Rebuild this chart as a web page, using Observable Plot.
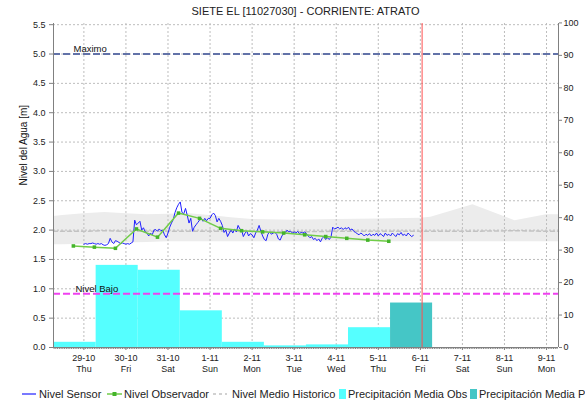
<!DOCTYPE html>
<html><head><meta charset="utf-8">
<script src="https://cdn.jsdelivr.net/npm/d3@7"></script>
<script src="https://cdn.jsdelivr.net/npm/@observablehq/plot@0.6"></script>
<style>
html,body{margin:0;padding:0;background:#fff;overflow:hidden;width:585px;height:403px;}
body{font-family:"Liberation Sans",Arial,sans-serif;}
#title{height:18px;line-height:22px;font-size:11px;text-align:center;padding-left:53px;padding-right:27px;color:#222;white-space:nowrap;}
#chart{height:360px;}
#legend{position:relative;height:25px;font-size:11px;color:#222;white-space:nowrap;}
.item{position:absolute;top:3px;height:25px;display:flex;align-items:center;}
.item svg{display:block;}
</style></head><body>
<div id="title"></div>
<div id="chart"></div>
<div id="legend"></div>
<script>
// ---------- data ----------
const titleText = "SIETE EL [11027030] - CORRIENTE: ATRATO";
const yLabel = "Nivel del Agua [m]";
const weekdays = ["Sun","Mon","Tue","Wed","Thu","Fri","Sat"];

// hourly sensor level (m), starting 29-10-2015 00:00
const sensorStart = "2015-10-29T00:00";
const sensorValues = [
  // 29-10
  1.76,1.77,1.76,1.77,1.77,1.78,1.77,1.76,1.77,1.76,1.77,1.75,1.74,1.75,1.77,1.86,1.80,1.77,1.82,1.81,1.79,1.77,1.78,1.77,
  // 30-10
  1.76,1.77,1.76,1.78,1.80,2.17,2.09,2.12,2.15,2.00,2.04,1.97,1.95,1.90,1.95,1.92,2.00,2.01,1.98,2.02,1.99,2.00,1.92,1.87,
  // 31-10
  1.95,2.05,2.12,2.18,2.30,2.38,2.44,2.48,2.30,2.28,2.37,2.25,2.12,2.20,1.98,2.05,2.09,2.13,2.17,2.20,2.15,2.20,2.16,2.20,
  // 1-11
  2.20,2.26,2.29,2.25,2.14,2.20,2.15,2.08,1.96,2.00,1.89,1.95,2.00,1.95,2.02,1.97,2.08,2.02,2.00,1.89,1.95,1.98,1.90,1.94,
  // 2-11
  1.92,1.87,1.95,2.00,2.08,1.98,1.90,1.84,1.82,1.93,1.97,1.93,1.95,1.96,1.93,1.85,1.83,1.90,1.94,1.96,2.00,1.97,1.98,1.95,
  // 3-11
  1.97,1.95,1.98,1.94,1.96,1.95,1.97,1.94,1.90,1.87,1.89,1.84,1.86,1.82,1.85,1.80,1.86,1.89,1.84,1.87,1.84,1.88,2.05,2.02,
  // 4-11
  2.03,2.05,2.02,2.04,2.01,2.04,2.02,2.05,2.00,2.02,1.98,1.96,1.94,1.92,1.95,1.93,1.90,1.93,1.91,1.94,1.90,1.93,1.91,1.95,
  // 5-11
  1.90,1.94,1.92,1.89,1.95,1.91,1.93,1.90,1.95,1.92,1.89,1.94,1.92,1.96,1.91,1.93,1.90,1.95,1.92,1.89,1.91
];

// observer readings (m)
const obsTimes = ["2015-10-28T18:00","2015-10-29T06:00","2015-10-29T18:00","2015-10-30T06:00","2015-10-30T18:00",
  "2015-10-31T06:00","2015-10-31T18:00","2015-11-01T06:00","2015-11-01T18:00","2015-11-02T06:00","2015-11-02T18:00",
  "2015-11-03T06:00","2015-11-03T18:00","2015-11-04T06:00","2015-11-04T18:00","2015-11-05T06:00"];
const obsValues = [1.73,1.71,1.69,2.02,1.88,2.29,2.20,2.03,1.99,1.97,1.95,1.92,1.89,1.86,1.83,1.81];

// historical level: band (min/max) and median (m)
const histTimes = ["2015-10-28T06:40","2015-10-28T12:00","2015-10-29T00:00","2015-10-29T12:00","2015-10-30T00:00",
  "2015-10-30T12:00","2015-10-31T00:00","2015-10-31T12:00","2015-11-01T00:00","2015-11-01T12:00","2015-11-02T00:00",
  "2015-11-03T00:00","2015-11-04T00:00","2015-11-05T00:00","2015-11-06T00:00","2015-11-06T06:00","2015-11-07T06:00",
  "2015-11-08T06:00","2015-11-09T00:00","2015-11-09T06:50"];
const histHigh = [2.23,2.25,2.28,2.30,2.28,2.26,2.27,2.28,2.25,2.21,2.18,2.17,2.18,2.19,2.20,2.22,2.43,2.16,2.26,2.26];
const histLow  = [1.75,1.75,1.76,1.77,1.78,1.79,1.80,1.80,1.80,1.80,1.80,1.80,1.80,1.80,1.80,1.80,1.80,1.80,1.80,1.80];
const histMed  = [1.98,1.98,1.98,1.99,1.98,1.98,1.98,1.98,1.98,1.98,1.98,1.97,1.98,1.98,1.98,1.98,1.98,1.99,1.98,1.98];

// daily precipitation (mm), 07:00 to 07:00
const precipObsStart = ["2015-10-27T07:00","2015-10-28T07:00","2015-10-29T07:00","2015-10-30T07:00","2015-10-31T07:00",
  "2015-11-01T07:00","2015-11-02T07:00","2015-11-03T07:00","2015-11-04T07:00"];
const precipObsValues = [6.5,1.6,25.3,23.8,11.3,1.6,0.5,0.8,6.1];
const precipPredStart = ["2015-11-05T07:00"];
const precipPredValues = [13.7];

// thresholds (m)
const maximoLevel = 5.0, maximoLabel = "Maximo";
const bajoLevel = 0.915, bajoLabel = "Nivel Bajo";
const nowTime = "2015-11-06T01:00";

const leftTicks = [0,0.5,1,1.5,2,2.5,3,3.5,4,4.5,5,5.5];
const rightTicks = [0,10,20,30,40,50,60,70,80,90,100];
const dayTickDates = ["2015-10-29","2015-10-30","2015-10-31","2015-11-01","2015-11-02","2015-11-03",
  "2015-11-04","2015-11-05","2015-11-06","2015-11-07","2015-11-08","2015-11-09"];
const xStart = "2015-10-28T06:40", xEnd = "2015-11-09T06:50";

const legendItems = ["Nivel Sensor","Nivel Observador","Nivel Medio Historico","Precipitación Media Obs","Precipitación Media Pronosticada"];

// ---------- build ----------
const T = s => new Date(s + (s.length === 10 ? "T00:00Z" : "Z"));
const k = 0.0553; // right axis (mm) -> left axis (m)

const sensor = sensorValues.map((v, i) => ({date: d3.utcHour.offset(T(sensorStart), i), v}));
const observer = obsTimes.map((s, i) => ({date: T(s), v: obsValues[i]}));
const hist = histTimes.map((s, i) => ({date: T(s), hi: histHigh[i], lo: histLow[i], med: histMed[i]}));
const pObs = precipObsStart.map((s, i) => ({x1: T(s), x2: d3.utcDay.offset(T(s), 1), v: precipObsValues[i]}));
const pPred = precipPredStart.map((s, i) => ({x1: T(s), x2: d3.utcDay.offset(T(s), 1), v: precipPredValues[i]}));
const dayTicks = dayTickDates.map(T);
const xDomain = [T(xStart), T(xEnd)];
const hourTicks = d3.utcHour.range(xDomain[0], xDomain[1]);

document.getElementById("title").textContent = titleText;

const grid = {stroke: "#bdbdbd", strokeOpacity: 1, strokeDasharray: "2,2"};
const fmtDay = d => `${d.getUTCDate()}-${d.getUTCMonth() + 1}\n${weekdays[d.getUTCDay()]}`;

const chart = Plot.plot({
  width: 585, height: 360,
  marginLeft: 53, marginRight: 27, marginTop: 5, marginBottom: 31,
  style: {fontFamily: "'Liberation Sans', Arial, sans-serif", fontSize: "9px", color: "#222", background: "#fff"},
  x: {type: "utc", domain: xDomain, label: null},
  y: {domain: [0, 5.52], label: null},
  marks: [
    Plot.areaY(hist, {x: "date", y1: "lo", y2: "hi", fill: "#ececec"}),
    Plot.gridY(leftTicks, grid),
    Plot.gridX(dayTicks, grid),
    Plot.lineY(hist, {x: "date", y: "med", stroke: "#c2c2c2", strokeWidth: 1.5, strokeDasharray: "4,3"}),
    Plot.rectY(pObs, {x1: "x1", x2: "x2", y: d => d.v * k, fill: "#55ffff", clip: true}),
    Plot.rectY(pPred, {x1: "x1", x2: "x2", y: d => d.v * k, fill: "#45c6c6", clip: true}),
    Plot.ruleY([maximoLevel], {stroke: "#6272a8", strokeWidth: 2, strokeDasharray: "7,3"}),
    Plot.ruleY([bajoLevel], {stroke: "#f040f0", strokeWidth: 2, strokeDasharray: "7,3"}),
    Plot.text([maximoLabel], {frameAnchor: "left", y: () => maximoLevel, dx: 20, dy: -5, textAnchor: "start", fontSize: 9.5, fill: "#111"}),
    Plot.text([bajoLabel], {frameAnchor: "left", y: () => bajoLevel, dx: 22, dy: -5, textAnchor: "start", fontSize: 9.5, fill: "#111"}),
    Plot.line(sensor, {x: "date", y: "v", stroke: "#2020ff", strokeWidth: 1}),
    Plot.line(observer, {x: "date", y: "v", stroke: "#70cc48", strokeWidth: 1.5}),
    Plot.dot(observer, {x: "date", y: "v", r: 2, symbol: "square", fill: "#44b42a"}),
    Plot.ruleX([T(nowTime)], {stroke: "#ff5050", strokeWidth: 1}),
    Plot.ruleX(xDomain, {stroke: "#808080"}),
    Plot.ruleY([0], {stroke: "#808080"}),
    Plot.axisY(leftTicks, {anchor: "left", tickSize: 4, tickPadding: 4, tickFormat: d3.format(".1f"), stroke: "#808080", label: null}),
    Plot.axisY(rightTicks.map(v => v * k), {anchor: "right", tickSize: 3, tickPadding: 2, tickFormat: d => Math.round(d / k), stroke: "#808080", label: null}),
    Plot.axisX(hourTicks, {tickSize: 2, tickFormat: () => "", stroke: "#808080", label: null}),
    Plot.axisX(dayTicks, {tickSize: 3, tickPadding: 2, tickFormat: fmtDay, lineHeight: 1.29, stroke: "#808080", label: null}),
    Plot.text([yLabel], {frameAnchor: "left", dx: -30, rotate: -90, fontSize: 10, fill: "#111"})
  ]
});
document.getElementById("chart").appendChild(chart);

// legend
const legend = d3.select("#legend");
const lefts = [22, 107, 213, 339, 470];
const swatches = [
  s => s.attr("width", 14).append("line").attr("x1", 0).attr("x2", 14).attr("y1", 6).attr("y2", 6).attr("stroke", "#2020ff").attr("stroke-width", 1.2),
  s => { s.attr("width", 15); s.append("line").attr("x1", 0).attr("x2", 15).attr("y1", 6).attr("y2", 6).attr("stroke", "#70cc48").attr("stroke-width", 1.5);
         s.append("rect").attr("x", 5.5).attr("y", 4).attr("width", 4).attr("height", 4).attr("fill", "#44b42a"); },
  s => s.attr("width", 14).append("line").attr("x1", 0).attr("x2", 14).attr("y1", 6).attr("y2", 6).attr("stroke", "#c2c2c2").attr("stroke-width", 1.5).attr("stroke-dasharray", "3,3"),
  s => s.attr("width", 7).append("rect").attr("x", 0).attr("y", 1).attr("width", 7).attr("height", 10).attr("fill", "#55ffff"),
  s => s.attr("width", 7).append("rect").attr("x", 0).attr("y", 1).attr("width", 7).attr("height", 10).attr("fill", "#45c6c6")
];
const gaps = [3, 2, 5, 2, 2];
legendItems.forEach((name, i) => {
  const it = legend.append("div").attr("class", "item").style("left", lefts[i] + "px");
  const s = it.append("svg").attr("height", 12);
  swatches[i](s);
  it.append("span").style("margin-left", gaps[i] + "px").text(name);
});
</script>
</body></html>
